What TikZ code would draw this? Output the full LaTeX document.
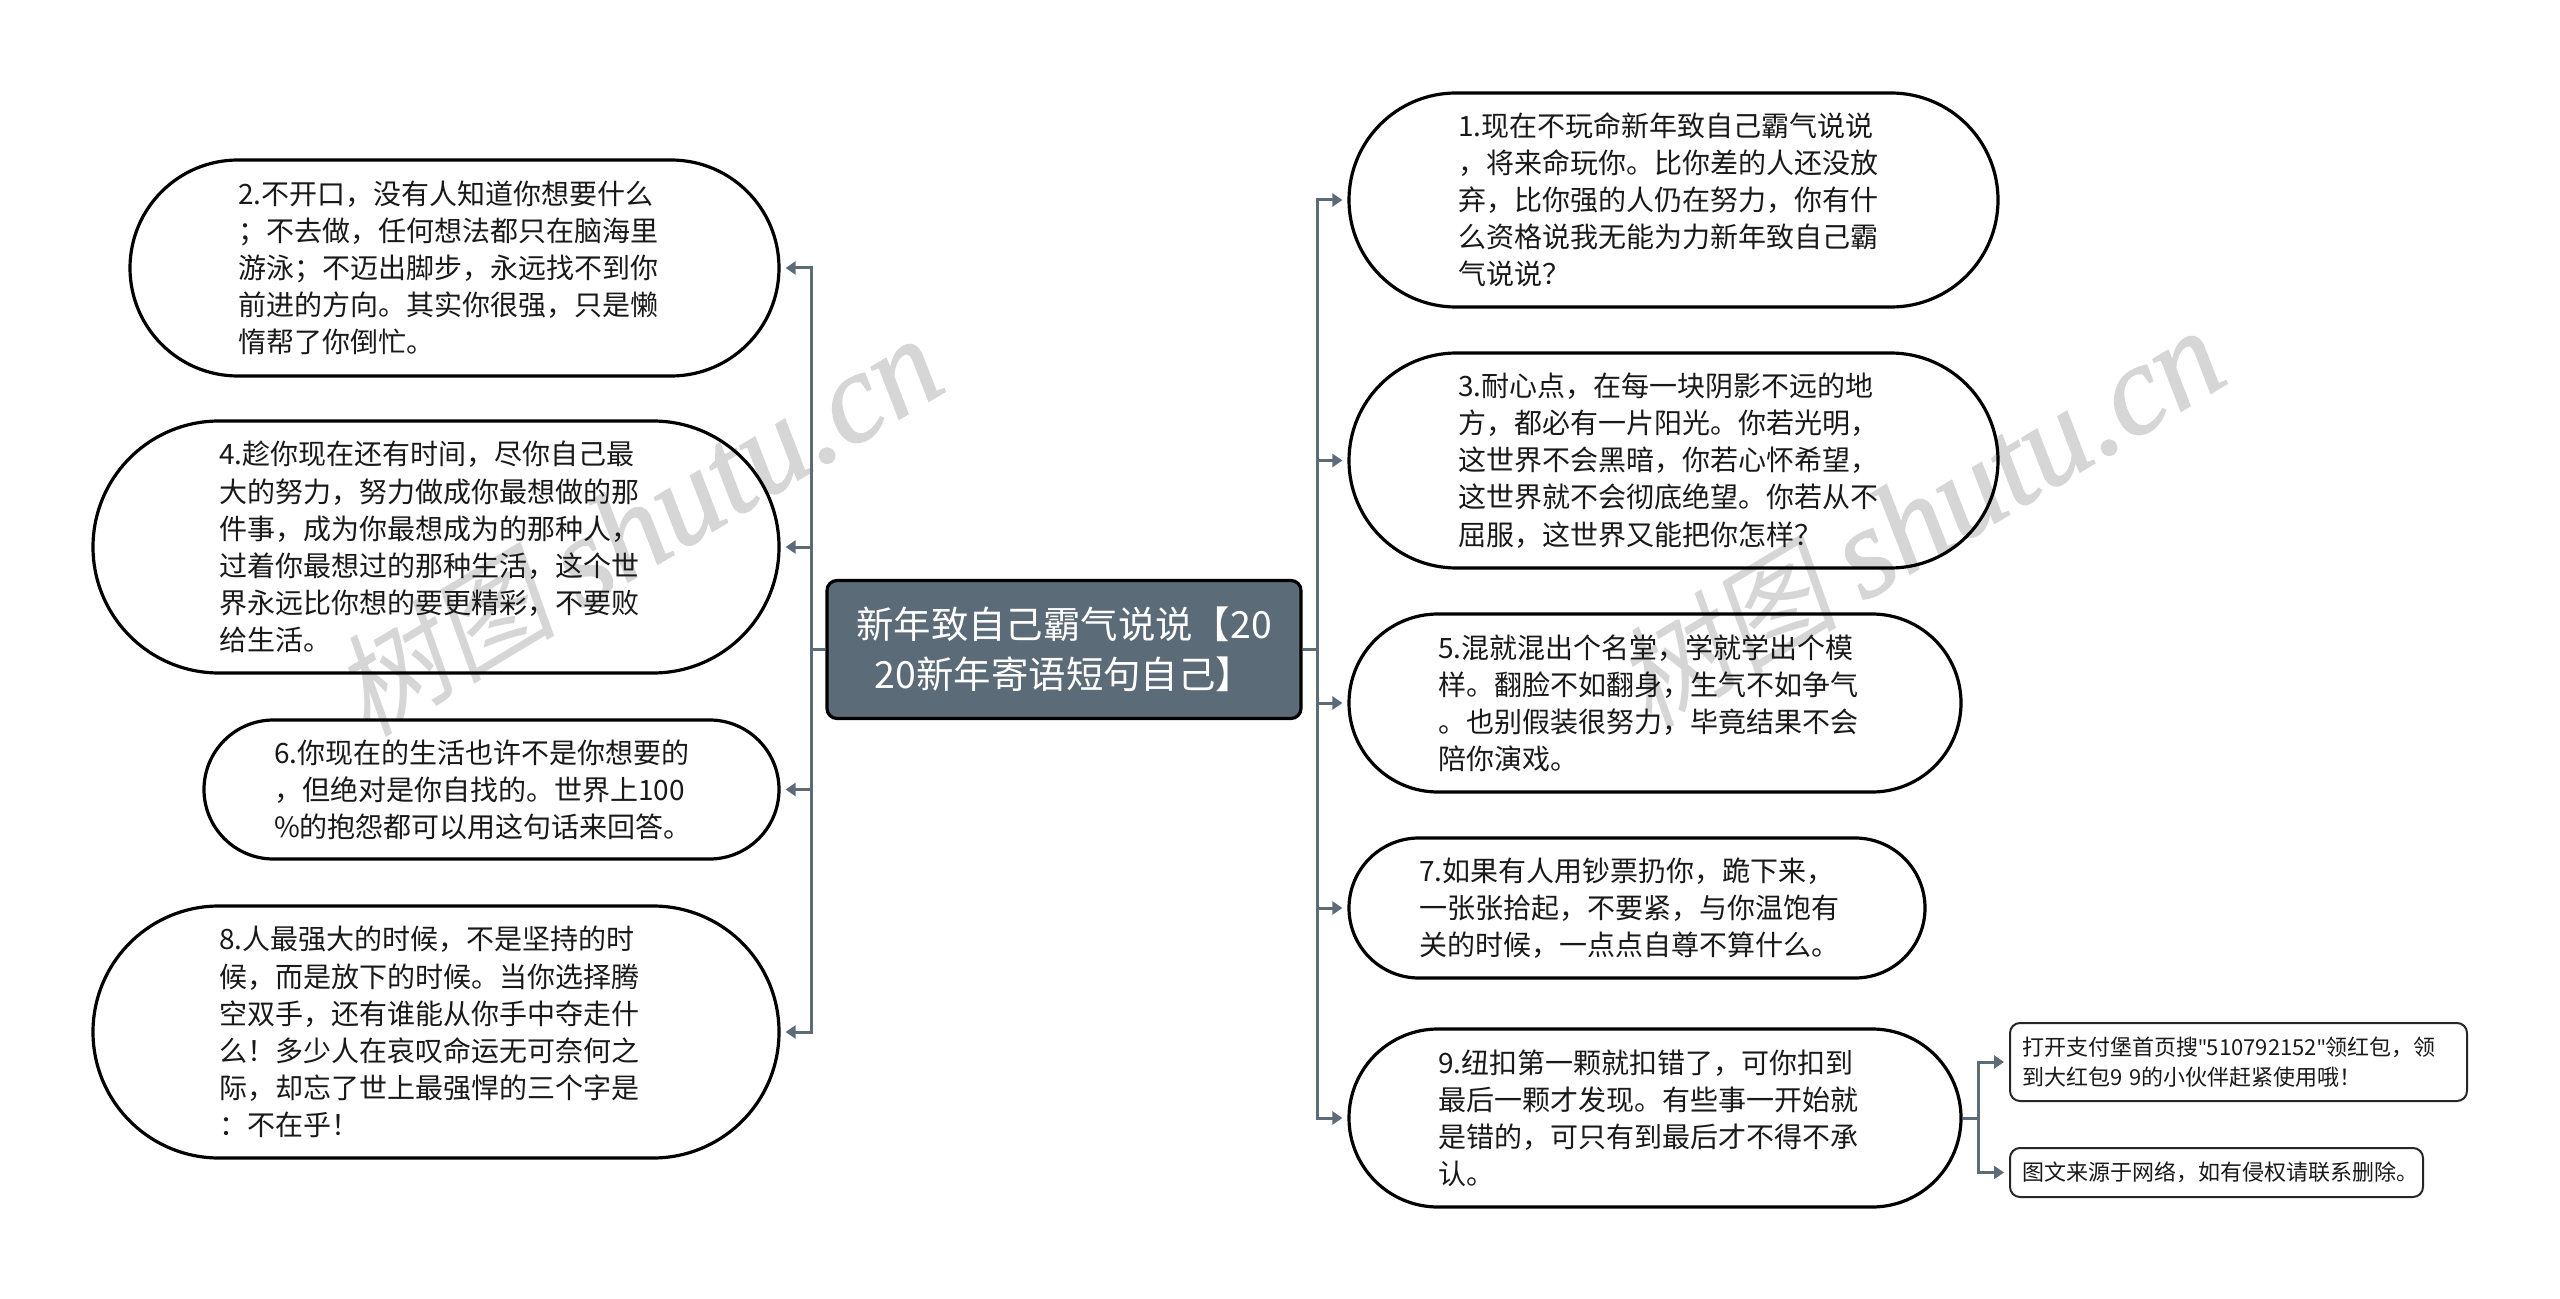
\documentclass[tikz,border=0pt]{standalone}
\usepackage{fontspec}
\setmainfont{Noto Sans CJK SC}
\newfontfamily\wmcjk[FakeSlant=0.2]{Noto Sans CJK SC}
\newfontfamily\wmlat[ItalicFeatures={FakeBold=1.2}]{Liberation Serif}
\newfontfamily\plainq{Noto Sans}
\usetikzlibrary{arrows.meta,shapes.misc,positioning}
\definecolor{slate}{HTML}{5C6B78}
\definecolor{wm}{HTML}{D6D6D6}
\tikzset{
  pill/.style n args={3}{draw=black,line width=1.6pt,rounded rectangle,inner sep=0pt,
    minimum width=#1,minimum height=#2,text width=#3,align=left,
    font=\fontsize{14}{18.55}\selectfont,text=black!90},
  note/.style={draw=black!85,line width=1pt,rounded corners=5pt,inner sep=0pt,align=left,
    font=\fontsize{11}{15}\selectfont,text=black!90,anchor=center},
  rootbox/.style={draw=black,line width=1.6pt,fill=slate,rounded corners=5pt,inner sep=0pt,
    minimum width=237pt,minimum height=69pt,align=center,text=white,
    font=\fontsize{18.7}{25}\selectfont},
  conn/.style={draw=slate,line width=1.5pt,-{Triangle[length=5pt,width=6.5pt]},shorten >=2.5pt},
  wmark/.style={text=wm,rotate=31,font=\fontsize{56}{60}\selectfont}
}
\begin{document}
\begin{tikzpicture}[x=0.5pt,y=-0.5pt]
\useasboundingbox[fill=white] (0,0) rectangle (2560,1299);
\node[wmark] (wa) at (637,527) {\wmcjk 树图 {\fontsize{64}{64}\wmlat\itshape shutu.cn}};
\node[wmark] (wb) at (1919,519) {\wmcjk 树图 {\fontsize{64}{64}\wmlat\itshape shutu.cn}};
\node[rootbox] (root) at (1064,649.5) {新年致自己霸气说说【20\\20新年寄语短句自己】};
\node[pill={324.5pt}{108pt}{216.5pt}] (n2) at (454.5,268) {2.不开口，没有人知道你想要什么\\；不去做，任何想法都只在脑海里\\游泳；不迈出脚步，永远找不到你\\前进的方向。其实你很强，只是懒\\惰帮了你倒忙。};
\node[pill={343pt}{126pt}{217pt}] (n4) at (436,547) {4.趁你现在还有时间，尽你自己最\\大的努力，努力做成你最想做的那\\件事，成为你最想成为的那种人，\\过着你最想过的那种生活，这个世\\界永远比你想的要更精彩，不要败\\给生活。};
\node[pill={287.5pt}{69.5pt}{217.5pt}] (n6) at (491.5,789.5) {6.你现在的生活也许不是你想要的\\，但绝对是你自找的。世界上100\\\%的抱怨都可以用这句话来回答。};
\node[pill={343pt}{126pt}{217pt}] (n8) at (436,1032) {8.人最强大的时候，不是坚持的时\\候，而是放下的时候。当你选择腾\\空双手，还有谁能从你手中夺走什\\么！多少人在哀叹命运无可奈何之\\际，却忘了世上最强悍的三个字是\\：不在乎！};
\node[pill={324.5pt}{107pt}{215.5pt}] (n1) at (1673.5,200) {1.现在不玩命新年致自己霸气说说\\，将来命玩你。比你差的人还没放\\弃，比你强的人仍在努力，你有什\\么资格说我无能为力新年致自己霸\\气说说？};
\node[pill={324.5pt}{107.5pt}{215.5pt}] (n3) at (1673.5,460.5) {3.耐心点，在每一块阴影不远的地\\方，都必有一片阳光。你若光明，\\这世界不会黑暗，你若心怀希望，\\这世界就不会彻底绝望。你若从不\\屈服，这世界又能把你怎样？};
\node[pill={306pt}{89pt}{217pt}] (n5) at (1655,703) {5.混就混出个名堂，学就学出个模\\样。翻脸不如翻身，生气不如争气\\。也别假装很努力，毕竟结果不会\\陪你演戏。};
\node[pill={288pt}{70pt}{218pt}] (n7) at (1637,908) {7.如果有人用钞票扔你，跪下来，\\一张张拾起，不要紧，与你温饱有\\关的时候，一点点自尊不算什么。};
\node[pill={306pt}{89pt}{217pt}] (n9) at (1655,1118) {9.纽扣第一颗就扣错了，可你扣到\\最后一颗才发现。有些事一开始就\\是错的，可只有到最后才不得不承\\认。};
\node[note,minimum width=228.5pt,minimum height=39pt,text width=216.5pt] (a) at (2238.5,1062) {打开支付堡首页搜{\plainq"}510792152{\plainq"}领红包，领\\到大红包9 9的小伙伴赶紧使用哦！};
\node[note,minimum width=206.5pt,minimum height=24.5pt,text width=194.5pt] (b) at (2216.5,1172.5) {图文来源于网络，如有侵权请联系删除。};
\coordinate (lbus) at (811,649.5);
\coordinate (rbus) at (1317,649.5);
\coordinate (nbus) at (1978,1118);
\foreach \t in {n2,n4,n6,n8} \draw[conn] (root.west) -- (lbus) |- (\t.east);
\foreach \t in {n1,n3,n5,n7,n9} \draw[conn] (root.east) -- (rbus) |- (\t.west);
\foreach \t in {a,b} \draw[conn] (n9.east) -- (nbus) |- (\t.west);
\end{tikzpicture}
\end{document}
